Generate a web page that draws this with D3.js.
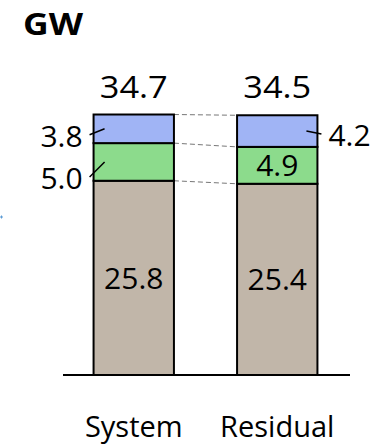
<!DOCTYPE html>
<html>
<head>
<meta charset="utf-8">
<script src="https://cdn.jsdelivr.net/npm/d3@7"></script>
<style>
  body { margin: 0; background: #fff; }
  text { font-family: "Open Sans", sans-serif; fill: #000; }
</style>
</head>
<body>
<div id="chart"></div>
<script>
let width = 387,
    height = 445;

// data
const categories = ["System", "Residual"];
const series = ["base", "middle", "top"];
const baseValues = [25.8, 25.4];
const middleValues = [5.0, 4.9];
const topValues = [3.8, 4.2];
const totalLabels = ["34.7", "34.5"];
const colors = ["#c1b6a9", "#8cdb8c", "#a0b4f5"];

const rows = categories.map((c, i) => ({
  cat: c, base: baseValues[i], middle: middleValues[i], top: topValues[i], total: totalLabels[i]
}));

const svg = d3.select("#chart").append("svg")
    .attr("width", width)
    .attr("height", height);

let x = d3.scaleBand()
    .domain(categories)
    .range([62, 349])
    .paddingInner(0.44)
    .paddingOuter(0.22);

let y = d3.scaleLinear()
    .domain([0, 35])
    .range([375, 111.5]);

const stack = d3.stack().keys(series)(rows);

// connector dashes between bars
const first = rows[0], second = rows[1];
stack.forEach(function (s) {
  svg.append("line")
      .attr("x1", x(first.cat) + x.bandwidth())
      .attr("x2", x(second.cat))
      .attr("y1", y(s[0][1]))
      .attr("y2", y(s[1][1]))
      .attr("stroke", "#777")
      .attr("stroke-width", 1)
      .attr("stroke-dasharray", "5,3");
});

svg.selectAll(".layer")
    .data(stack)
    .enter().append("g")
    .attr("fill", (d, i) => colors[i])
    .selectAll("rect")
    .data(d => d)
    .enter().append("rect")
    .attr("x", d => x(d.data.cat))
    .attr("y", d => y(d[1]))
    .attr("width", x.bandwidth())
    .attr("height", d => y(d[0]) - y(d[1]))
    .attr("stroke", "#000")
    .attr("stroke-width", 2);

// baseline
svg.append("line")
    .attr("x1", 63).attr("x2", 350)
    .attr("y1", y(0)).attr("y2", y(0))
    .attr("stroke", "#000")
    .attr("stroke-width", 2);

// totals
svg.selectAll(".total")
    .data(rows)
    .enter().append("text")
    .attr("x", d => x(d.cat) + x.bandwidth() / 2)
    .attr("y", 98)
    .attr("text-anchor", "middle")
    .attr("textLength", 68)
    .attr("lengthAdjust", "spacingAndGlyphs")
    .style("font-size", "31px")
    .text(d => d.total);

// inside labels (base of both, middle of second)
const mid = (s, i) => y((s[i][0] + s[i][1]) / 2);
[[0, 0], [0, 1], [1, 1]].forEach(function (p) {
  let s = stack[p[0]], i = p[1];
  svg.append("text")
      .attr("x", x(categories[i]) + x.bandwidth() / 2)
      .attr("y", mid(s, i))
      .attr("dy", "0.36em")
      .attr("text-anchor", "middle")
      .style("font-size", "30px")
      .text(s[i].data[series[p[0]]].toFixed(1));
});

// callouts with leader lines
function callout(layer, i, side, shift) {
  let s = stack[layer];
  let yy = mid(s, i);
  let edge = side < 0 ? x(categories[i]) : x(categories[i]) + x.bandwidth();
  let ly = yy + shift;
  svg.append("line")
      .attr("x1", edge - side * 11).attr("y1", yy)
      .attr("x2", edge + side * 4).attr("y2", ly - 1)
      .attr("stroke", "#000").attr("stroke-width", 1.5);
  svg.append("text")
      .attr("x", edge + side * 11)
      .attr("y", ly)
      .attr("dy", "0.36em")
      .attr("text-anchor", side < 0 ? "end" : "start")
      .style("font-size", "30px")
      .text(s[i].data[series[layer]].toFixed(1));
}
callout(2, 0, -1, 7);
callout(1, 0, -1, 16);
callout(2, 1, 1, 4);

// category labels
svg.selectAll(".cat")
    .data(categories)
    .enter().append("text")
    .attr("x", d => x(d) + x.bandwidth() / 2)
    .attr("y", 437)
    .attr("text-anchor", "middle")
    .style("font-size", "29px")
    .text(d => d);

// unit title
svg.append("text")
    .attr("x", 23)
    .attr("y", 35)
    .attr("textLength", 60)
    .attr("lengthAdjust", "spacingAndGlyphs")
    .style("font-size", "30px")
    .style("font-weight", "bold")
    .text("GW");

// stray blue mark at left edge
svg.append("path")
    .attr("d", "M0,217H3M1.5,215.5V218.5")
    .attr("stroke", "#5b9bd5")
    .attr("stroke-width", 1);
</script>
</body>
</html>
